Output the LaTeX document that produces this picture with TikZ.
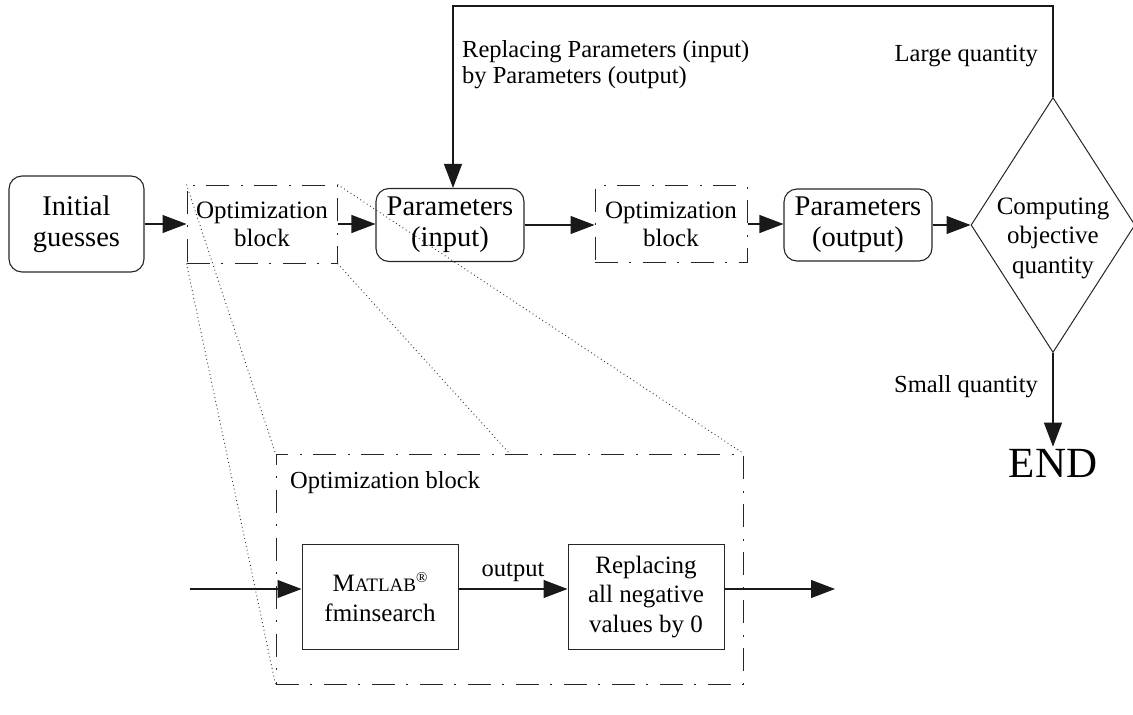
\documentclass[tikz,border=0pt]{standalone}
\usepackage{fontspec}
\setmainfont{Liberation Serif}
\usetikzlibrary{shapes.geometric,arrows.meta}
\begin{document}
\begin{tikzpicture}[x=1pt,y=-1pt,
  line/.style={draw=black!90,line width=1.1pt},
  arr/.style={line,-{Triangle[length=24pt,width=18pt]}},
  dashdot/.style={draw=black!85,line width=1pt,dash pattern=on 23pt off 11pt on 2pt off 12pt},
  zoomline/.style={draw=black!80,line width=0.9pt,dash pattern=on 0.9pt off 3pt},
  rbox/.style={draw=black!85,line width=1.1pt,rounded corners=13pt,align=center,inner sep=0pt,font=\fontsize{28.5}{31}\selectfont},
  optbox/.style={dashdot,align=center,inner sep=0pt,minimum width=150pt,minimum height=78pt,font=\fontsize{25}{28}\selectfont},
  pbox/.style={draw=black!85,line width=1pt,align=center,inner sep=0pt,minimum width=156pt,minimum height=105pt,font=\fontsize{25}{29.5}\selectfont},
  lbl/.style={inner sep=0pt,font=\fontsize{24.5}{28}\selectfont},
]
\useasboundingbox (0,0) rectangle (1133,715);

% main chain
\node[rbox,minimum width=135pt,minimum height=96pt] (init) at (76.5,224) {Initial\\guesses};
\node[optbox] (opt1) at (262,224) {Optimization\\block};
\node[rbox,minimum width=148pt,minimum height=73pt] (parin) at (450,225) {Parameters\\(input)};
\node[optbox,minimum width=152pt,minimum height=77pt] (opt2) at (671,224) {Optimization\\block};
\node[rbox,minimum width=148pt,minimum height=72pt] (parout) at (858,225) {Parameters\\(output)};
\node[diamond,draw=black!85,line width=1pt,inner sep=0pt,minimum width=164pt,minimum height=255pt] (dec) at (1053,225) {};
\node[align=center,inner sep=0pt,font=\fontsize{25}{29.5}\selectfont] (dectext) at ([yshift=-13pt]dec.center) {Computing\\objective\\quantity};

\draw[arr] (init.east |- opt1.west) -- (opt1.west);
\draw[arr] (opt1.east) -- (opt1.east -| parin.west);
\draw[arr] (parin.east) -- (parin.east -| opt2.west);
\draw[arr] (opt2.east) -- (opt2.east -| parout.west);
\draw[arr] (parout.east) -- (dec.west);

% feedback loop
\coordinate (fbtop) at (1053,6);
\coordinate (fbleft) at (453,6);
\draw[arr] (dec.north) -- (fbtop) -- (fbleft) -- (fbleft |- parin.north);
\node[lbl,anchor=base west] (rp1) at (462,57) {Replacing Parameters (input)};
\node[lbl,anchor=base west] (rp2) at (462,83) {by Parameters (output)};
\node[lbl,anchor=base east] (large) at (1038,61) {Large quantity};

% exit
\node[inner sep=0pt,anchor=base,font=\fontsize{43}{48}\selectfont] (end) at (1053,477) {END};
\draw[arr,shorten >=2pt] (dec.south) -- (end.north);
\node[lbl,anchor=base east] (small) at (1038,392) {Small quantity};

% detail of the optimization block
\node[dashdot,minimum width=467pt,minimum height=230pt,inner sep=0pt] (big) at (509.5,569) {};
\node[lbl,anchor=base west] (bigtitle) at (290,488) {Optimization block};
\node[pbox] (mat) at (380,597) {M{\fontsize{19}{19}\selectfont ATLAB}\raisebox{9pt}{\fontsize{15}{15}\selectfont ®}\\fminsearch};
\node[pbox] (rep) at (646,597) {Replacing\\all negative\\values by 0};
\coordinate (inL) at (190,589);
\coordinate (outR) at (835,589);
\draw[arr] (inL) -- (mat.west |- inL);
\draw[arr] (mat.east |- inL) -- node[lbl,above=7pt] (outlbl) {output} (rep.west |- inL);
\draw[arr] (rep.east |- inL) -- (outR);

% zoom guides
\coordinate (bigmid) at (510,454);
\draw[zoomline] (opt1.north west) -- (big.north west);
\draw[zoomline] (opt1.south west) -- (big.south west);
\draw[zoomline] (opt1.north east) -- (big.north east);
\draw[zoomline] (opt1.south east) -- (bigmid);
\end{tikzpicture}
\end{document}
